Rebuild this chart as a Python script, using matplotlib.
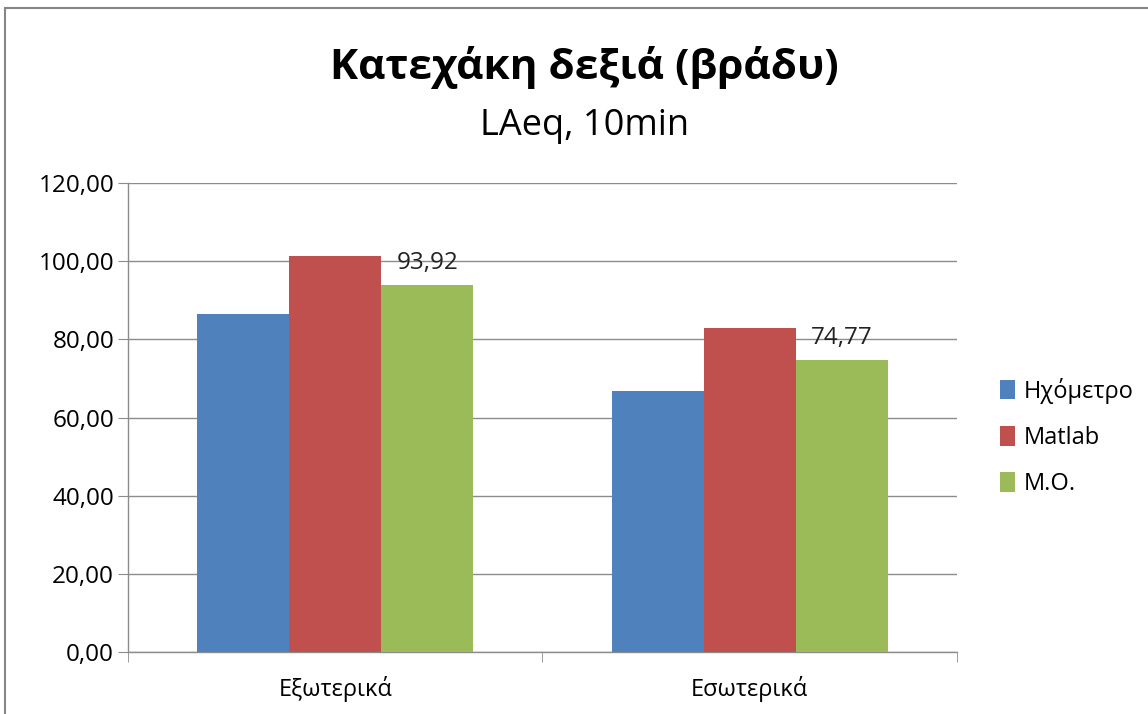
import numpy as np
import matplotlib
matplotlib.use("Agg")
import matplotlib.pyplot as plt
from matplotlib.ticker import FuncFormatter, FixedLocator
from matplotlib.patches import Rectangle

plt.rcParams['font.family'] = ['Open Sans', 'DejaVu Sans']

# data
categories = ['Εξωτερικά', 'Εσωτερικά']
series_names = ['Ηχόμετρο', 'Matlab', 'Μ.Ο.']
ixometro = [86.6, 66.75]
matlab = [101.24, 82.79]
mean_vals = [93.92, 74.77]
colors = ['#4F81BD', '#C0504D', '#9BBB59']
y_ticks = [0, 20, 40, 60, 80, 100, 120]


def comma_fmt(v, pos=None):
    return f"{v:.2f}".replace('.', ',')


fig = plt.figure(figsize=(11.48, 7.14), dpi=100)
ax = fig.add_axes([0.1115, 0.0868, 0.8336 - 0.1115, 0.7437 - 0.0868])

x = np.arange(len(categories))
width = 1 / 4.5
all_series = [ixometro, matlab, mean_vals]
for i, (vals, name, col) in enumerate(zip(all_series, series_names, colors)):
    ax.bar(x + (i - 1) * width, vals, width, color=col, label=name, zorder=3)

# value labels only on the average series
for xi, v in zip(x, mean_vals):
    ax.annotate(comma_fmt(v), (xi + width, v), xytext=(0, 7), textcoords='offset points',
                ha='center', va='bottom', fontsize=17.5, color='#222222')

ax.set_xlim(-0.5, len(categories) - 0.5)
ax.set_ylim(0, 120)
ax.yaxis.set_major_locator(FixedLocator(y_ticks))
ax.yaxis.set_major_formatter(FuncFormatter(comma_fmt))
ax.grid(axis='y', color='#8C8C8C', linewidth=1.0, zorder=0)

ax.set_xticks(x)
ax.set_xticklabels(categories)
ax.xaxis.set_minor_locator(FixedLocator([-0.5, 0.5, 1.5]))
ax.tick_params(axis='x', which='major', length=0, pad=17, labelsize=17)
ax.tick_params(axis='x', which='minor', length=7, color='#8C8C8C', direction='out')
ax.tick_params(axis='y', length=7, color='#8C8C8C', labelsize=17.5, pad=3)

for side in ['top', 'right']:
    ax.spines[side].set_visible(False)
for side in ['left', 'bottom']:
    ax.spines[side].set_color('#8C8C8C')
    ax.spines[side].set_linewidth(1.0)

fig.text(0.509, 0.905, 'Κατεχάκη δεξιά (βράδυ)', ha='center', va='center',
         fontsize=30.5, fontweight='bold')
fig.text(0.509, 0.823, 'LAeq, 10min', ha='center', va='center', fontsize=26)

fig.legend(loc='center left', bbox_to_anchor=(0.853, 0.388), frameon=False,
           fontsize=17, handlelength=0.6, handleheight=0.9, handletextpad=0.4,
           labelspacing=0.95)

# outer chart frame
fig.patches.append(Rectangle((0.004, -0.01), 1.2, 0.999, transform=fig.transFigure,
                             fill=False, edgecolor='#868686', linewidth=1.5))

fig.savefig('out.png', dpi=100)
